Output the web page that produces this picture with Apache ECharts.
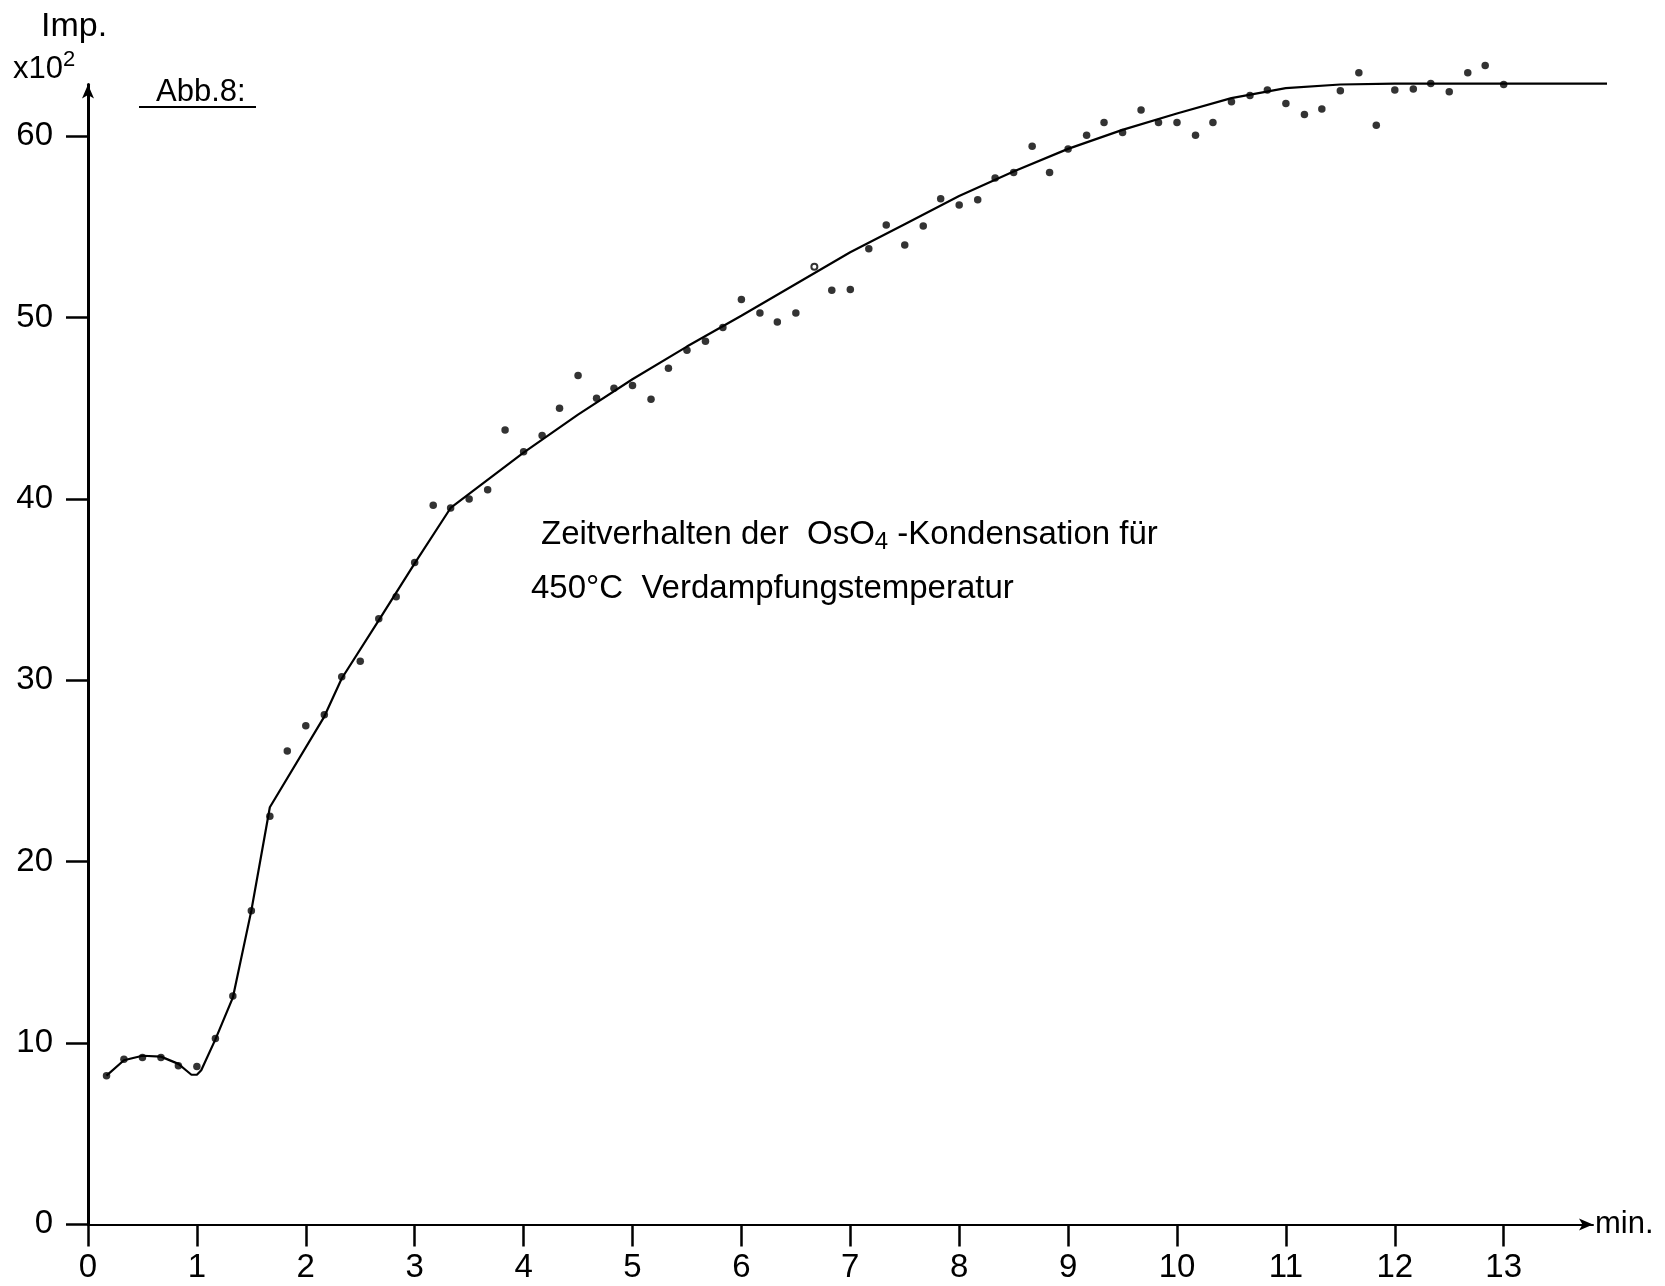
<!DOCTYPE html>
<html lang="de">
<head>
	<meta charset="UTF-8">
	<title>Abb. 8</title>
	<style>
		html, body { margin: 0; padding: 0; background: #fff; }
	</style>
</head>
<body>
	<div id="main" style="width: 1665px;height: 1286px"></div>
	<script src="https://cdn.jsdelivr.net/npm/echarts@6/dist/echarts.min.js"></script>
	<script>

		// Messpunkte: Zeit in min, Impulse in 10^2
		var timeMin = [0.17, 0.33, 0.5, 0.67, 0.83, 1.0, 1.17, 1.33, 1.5, 1.67,
			1.83, 2.0, 2.17, 2.33, 2.5, 2.67, 2.83, 3.0, 3.17, 3.33,
			3.5, 3.67, 3.83, 4.0, 4.17, 4.33, 4.5, 4.67, 4.83, 5.0,
			5.17, 5.33, 5.5, 5.67, 5.83, 6.0, 6.17, 6.33, 6.5,
			6.83, 7.0, 7.17, 7.33, 7.5, 7.67, 7.83, 8.0, 8.17, 8.33,
			8.5, 8.67, 8.83, 9.0, 9.17, 9.33, 9.5, 9.67, 9.83, 10.0,
			10.17, 10.33, 10.5, 10.67, 10.83, 11.0, 11.17, 11.33, 11.5, 11.67,
			11.83, 12.0, 12.17, 12.33, 12.5, 12.67, 12.83, 13.0];
		var counts = [8.2, 9.1, 9.2, 9.2, 8.75, 8.7, 10.25, 12.6, 17.3, 22.5,
			26.1, 27.5, 28.1, 30.2, 31.05, 33.4, 34.6, 36.5, 39.65, 39.5,
			40.0, 40.5, 43.8, 42.6, 43.5, 45.0, 46.8, 45.55, 46.1, 46.25,
			45.5, 47.2, 48.2, 48.7, 49.45, 51.0, 50.25, 49.75, 50.25,
			51.5, 51.55, 53.8, 55.1, 54.0, 55.05, 56.55, 56.2, 56.5, 57.7,
			58.0, 59.45, 58.0, 59.3, 60.05, 60.75, 60.2, 61.45, 60.75, 60.75,
			60.05, 60.75, 61.9, 62.25, 62.55, 61.8, 61.2, 61.5, 62.5, 63.5,
			60.6, 62.55, 62.6, 62.9, 62.45, 63.5, 63.9, 62.85];

		// der eine offen gezeichnete Punkt
		var openTime = [6.67];
		var openCount = [52.8];

		// ausgeglichene Kurve (reicht etwas über die Pfeilspitze hinaus)
		var curveTime = [0.17, 0.33, 0.5, 0.67, 0.83, 0.9, 0.95, 1.0, 1.04, 1.17, 1.33,
			1.5, 1.67, 2.17, 2.33, 2.67, 3.0, 3.33, 4.0, 4.5, 5.0,
			5.5, 6.0, 6.5, 7.0, 7.5, 8.0, 8.5, 9.0, 9.5, 10.0,
			10.5, 11.0, 11.5, 12.0, 13.95];
		var curveCounts = [8.2, 9.05, 9.3, 9.25, 8.85, 8.5, 8.25, 8.25, 8.5, 10.2, 12.5,
			17.3, 23.0, 28.0, 30.1, 33.3, 36.45, 39.5, 42.55, 44.65, 46.6,
			48.4, 50.1, 51.85, 53.6, 55.15, 56.7, 58.05, 59.3, 60.35, 61.25,
			62.1, 62.65, 62.85, 62.9, 62.9];

		var xTicks = [0, 1, 2, 3, 4, 5, 6, 7, 8, 9, 10, 11, 12, 13];
		var yTicks = [0, 10, 20, 30, 40, 50, 60];

		var font = "'Liberation Sans', Arial, sans-serif";

		function zip(a, b) {
			var out = [];
			for (var i = 0; i < a.length; i++) out.push([a[i], b[i]]);
			return out;
		}

		var myChart = echarts.init(document.getElementById('main'));

		myChart.setOption({
			animation: false,
			backgroundColor: '#fff',
			grid: [
				// sichtbares Achsenkreuz
				{ left: 88, right: 72, top: 84.5, bottom: 61.6, outerBoundsMode: 'none' },
				// gleicher Maßstab, etwas breiter: nur für die Kurve
				{ left: 88, right: 58, top: 84.5, bottom: 61.6, outerBoundsMode: 'none' }
			],
			xAxis: [
				{
					type: 'value',
					gridIndex: 0,
					min: 0,
					max: 13.82,
					interval: 1,
					splitLine: { show: false },
					axisLine: {
						lineStyle: { color: '#000', width: 2 },
						symbol: ['none', 'arrow'],
						symbolSize: [9, 14]
					},
					axisTick: {
						customValues: xTicks,
						length: 22,
						lineStyle: { color: '#000', width: 2.5 }
					},
					axisLabel: {
						customValues: xTicks,
						margin: 27,
						color: '#000',
						fontFamily: font,
						fontSize: 33
					},
					name: 'min.',
					nameLocation: 'end',
					nameGap: 2,
					nameTextStyle: { color: '#000', fontFamily: font, fontSize: 31 }
				},
				{ type: 'value', gridIndex: 1, min: 0, max: 13.95, show: false }
			],
			yAxis: [
				{
					type: 'value',
					gridIndex: 0,
					min: 0,
					max: 62.85,
					interval: 10,
					splitLine: { show: false },
					axisLine: {
						lineStyle: { color: '#000', width: 3 },
						symbol: ['none', 'arrow'],
						symbolSize: [9, 14]
					},
					axisTick: {
						customValues: yTicks,
						length: 22,
						lineStyle: { color: '#000', width: 2.5 }
					},
					axisLabel: {
						customValues: yTicks,
						margin: 35,
						color: '#000',
						fontFamily: font,
						fontSize: 33
					}
				},
				{ type: 'value', gridIndex: 1, min: 0, max: 62.85, show: false }
			],
			graphic: [
				{
					type: 'text', left: 41, top: 10,
					style: { text: 'Imp.', fill: '#000', font: '34px ' + font }
				},
				{
					type: 'text', left: 13, top: 49,
					style: {
						text: '{b|x10}{s|2}',
						fill: '#000',
						rich: {
							b: { fontFamily: font, fontSize: 31, lineHeight: 36, verticalAlign: 'bottom' },
							s: { fontFamily: font, fontSize: 22, lineHeight: 36, verticalAlign: 'top' }
						}
					}
				},
				{
					type: 'text', left: 156, top: 77,
					style: { text: 'Abb.8:', fill: '#000', font: '31px ' + font }
				},
				{
					type: 'line',
					shape: { x1: 139, y1: 107, x2: 256, y2: 107 },
					style: { stroke: '#000', lineWidth: 2 }
				},
				{
					type: 'text', left: 541, top: 518,
					style: {
						text: '{a|Zeitverhalten der  OsO}{s|4}{a| -Kondensation für}',
						fill: '#000',
						rich: {
							a: { fontFamily: font, fontSize: 33, lineHeight: 40, verticalAlign: 'middle' },
							s: { fontFamily: font, fontSize: 24, lineHeight: 24, verticalAlign: 'bottom' }
						}
					}
				},
				{
					type: 'text', left: 531, top: 572,
					style: { text: '450°C  Verdampfungstemperatur', fill: '#000', font: '33px ' + font }
				}
			],
			series: [
				{
					name: 'Kurve',
					type: 'line',
					xAxisIndex: 1,
					yAxisIndex: 1,
					data: zip(curveTime, curveCounts),
					showSymbol: false,
					smooth: false,
					clip: false,
					lineStyle: { color: '#000', width: 2.2 },
					z: 2
				},
				{
					name: 'Messwerte',
					type: 'scatter',
					data: zip(timeMin, counts),
					symbol: 'circle',
					symbolSize: 7.5,
					clip: false,
					itemStyle: { color: '#000' },
					z: 3
				},
				{
					name: 'offen',
					type: 'scatter',
					data: zip(openTime, openCount),
					symbol: 'emptyCircle',
					symbolSize: 6,
					clip: false,
					itemStyle: { color: '#000', borderColor: '#555', borderWidth: 1 },
					z: 3
				}
			]
		});
	</script>
</body>
</html>
